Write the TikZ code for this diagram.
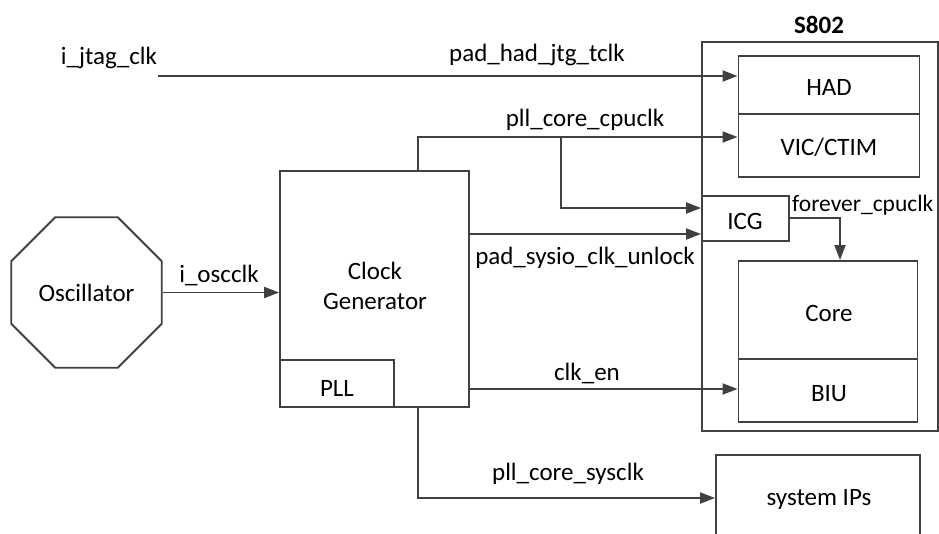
\documentclass[tikz,border=0pt]{standalone}
\usepackage{fontspec}
\setmainfont{Carlito}
\usetikzlibrary{arrows.meta,shapes.geometric}
\definecolor{ln}{HTML}{404040}
\tikzset{
  blk/.style={draw=ln, line width=1.9pt, rectangle, inner sep=0pt, fill=white},
  lbl/.style={inner sep=0pt, text=black},
  wire/.style={draw=ln, line width=1.9pt},
  arr/.style={wire, -{Triangle[length=15pt,width=11pt]}},
}
\begin{document}
\begin{tikzpicture}[x=1pt,y=-1pt, font=\fontsize{25}{30}\selectfont]
\clip (0,0) rectangle (939,533);
\fill[white] (0,0) rectangle (939,533);

% blocks
\node[draw=ln, line width=1.9pt, regular polygon, regular polygon sides=8, minimum size=163pt, inner sep=0pt] (osc) at (86.5,292.5) {};
\node[lbl] (osct) at (86.5,293) {Oscillator};

\node[blk, minimum width=189pt, minimum height=236pt] (cg) at (374.5,289) {};
\node[lbl, align=center] (cgt) at (375,286) {Clock\\Generator};
\node[blk, minimum width=114pt, minimum height=47pt] (pll) at (337,383.5) {};
\node[lbl] (pllt) at (337,388) {PLL};

\node[blk, minimum width=236pt, minimum height=389pt] (s802) at (820,236.5) {};
\node[lbl] (s802t) at (819,25) {\bfseries S802};

\node[blk, minimum width=181pt, minimum height=58pt] (had) at (829,85) {};
\node[lbl] (hadt) at (829,87) {HAD};
\node[blk, minimum width=181pt, minimum height=63pt] (vic) at (829,145.5) {};
\node[lbl] (vict) at (829,147) {VIC/CTIM};

\node[blk, minimum width=87pt, minimum height=45pt] (icg) at (745.5,218.5) {};
\node[lbl] (icgt) at (745,221) {ICG};

\node[blk, minimum width=179pt, minimum height=98pt] (core) at (828,310) {};
\node[lbl] (coret) at (829,313) {Core};
\node[blk, minimum width=179pt, minimum height=63pt] (biu) at (828,390.5) {};
\node[lbl] (biut) at (829,394) {BIU};

\node[blk, minimum width=204pt, minimum height=110pt] (sys) at (818,510) {};
\node[lbl] (syst) at (819,499) {system IPs};

% connectors
\coordinate (jt) at (158,76);
\draw[arr] (jt) -- (jt -| had.west);
\node[lbl] (jtl) at (109,58) {i\_jtag\_clk};
\node[lbl] (hjl) at (537,55) {pad\_had\_jtg\_tclk};

\draw[arr] (osc.east) -- (osc.east -| cg.west);
\node[lbl] (oscl) at (219,275) {i\_oscclk};

\coordinate (c1) at (418,137);
\draw[arr] (cg.north -| c1) -- (c1) -- (c1 -| vic.west);
\node[lbl] (cpul) at (585,120) {pll\_core\_cpuclk};

\coordinate (b1) at (561,137);
\coordinate (b2) at (561,208);
\draw[arr] (b1) -- (b2) -- (b2 -| icg.west);

\coordinate (u1) at (470,234);
\draw[arr] (cg.east |- u1) -- (u1 -| icg.west);
\node[lbl] (unl) at (585,258) {pad\_sysio\_clk\_unlock};

\coordinate (f1) at (840,218);
\draw[arr] (icg.east |- f1) -- (f1) -- (f1 |- core.north);
\node[lbl, anchor=west, font=\fontsize{23.5}{28}\selectfont] (fcl) at (792,205) {forever\_cpuclk};

\coordinate (e1) at (470,389);
\draw[arr] (cg.east |- e1) -- (e1 -| biu.west);
\node[lbl] (enl) at (587,373) {clk\_en};

\coordinate (s1) at (418,498);
\draw[arr] (cg.south -| s1) -- (s1) -- (s1 -| sys.west);
\node[lbl] (sysl) at (568,474) {pll\_core\_sysclk};
\end{tikzpicture}
\end{document}
